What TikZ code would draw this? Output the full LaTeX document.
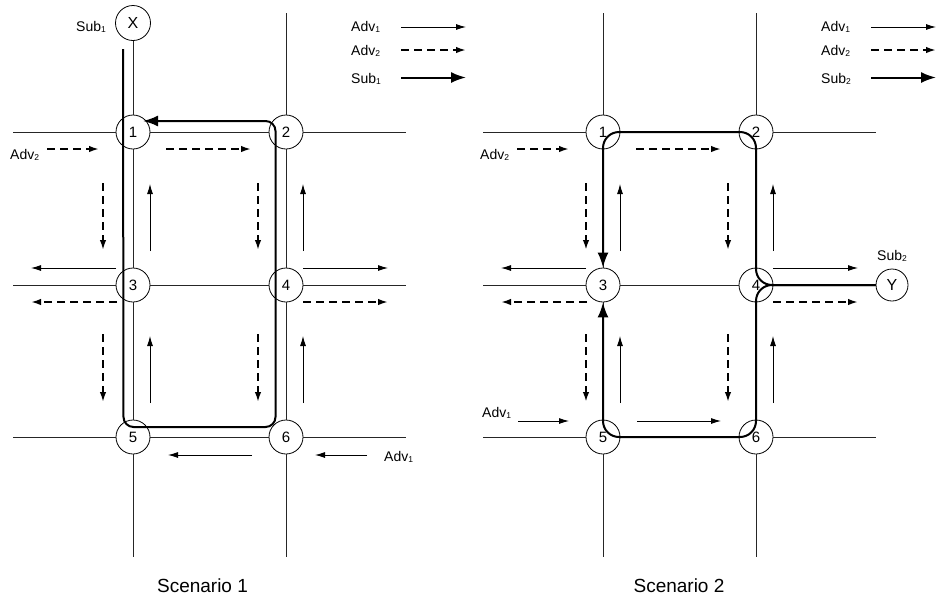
\documentclass[tikz,border=0pt]{standalone}
\usepackage{fontspec}
\setmainfont{Liberation Sans}
\usetikzlibrary{arrows.meta}
\newcommand{\mysub}[1]{\raisebox{-1.2pt}{\fontsize{8.5}{8.5}\selectfont #1}}
\begin{document}
\begin{tikzpicture}[x=1pt,y=-1pt,
  junction/.style={draw, circle, fill=white, minimum size=34pt, inner sep=0pt, line width=0.8pt, font=\fontsize{15}{15}\selectfont},
  road/.style={line width=0.9pt, draw=black!85},
  adva/.style={line width=0.9pt, -{Latex[length=10pt,width=6pt]}},
  advb/.style={line width=1.8pt, dash pattern=on 8pt off 5pt, -{Latex[length=10pt,width=6.5pt]}},
  subpath/.style={line width=2pt, -{Latex[length=15pt,width=11pt]}},
  lbl/.style={anchor=base west, inner sep=0pt, font=\fontsize{14}{14}\selectfont},
  title/.style={anchor=base, inner sep=0pt, font=\fontsize{19}{19}\selectfont}]
\useasboundingbox (0,0) rectangle (938,598);

% junctions
\foreach \s/\d in {a/0,b/470} {
  \node[junction] (\s1) at (133+\d,132) {1};
  \node[junction] (\s2) at (286+\d,132) {2};
  \node[junction] (\s3) at (133+\d,285) {3};
  \node[junction] (\s4) at (286+\d,285) {4};
  \node[junction] (\s5) at (133+\d,437) {5};
  \node[junction] (\s6) at (286+\d,437) {6};
}
\node[junction, minimum size=35pt, font=\fontsize{16}{16}\selectfont] (X) at (133,23) {X};
\node[junction, minimum size=32pt, font=\fontsize{16}{16}\selectfont] (Y) at (892,285) {Y};

% roads
\foreach \s/\d in {a/0,b/470} {
  \foreach \r/\y/\p/\q in {1/132/1/2, 2/285/3/4, 3/437/5/6} {
    \coordinate (\s W\r) at (13+\d,\y);
    \coordinate (\s E\r) at (406+\d,\y);
    \draw[road] (\s W\r) -- (\s\p);
    \draw[road] (\s\p) -- (\s\q);
    \draw[road] (\s\q) -- (\s E\r);
  }
  \coordinate (\s T2) at (286+\d,13);
  \coordinate (\s B1) at (133+\d,557);
  \coordinate (\s B2) at (286+\d,557);
  \draw[road] (\s T2) -- (\s2);
  \draw[road] (\s1) -- (\s3);
  \draw[road] (\s3) -- (\s5);
  \draw[road] (\s5) -- (\s B1);
  \draw[road] (\s2) -- (\s4);
  \draw[road] (\s4) -- (\s6);
  \draw[road] (\s6) -- (\s B2);
}
\coordinate (bT1) at (603,13);
\draw[road] (X) -- (a1);
\draw[road] (bT1) -- (b1);
\draw[road, line width=1.2pt] (b4) -- (Y);

% common movement arrows
\foreach \s/\d in {a/0,b/470} {
  % up arrows
  \draw[adva] (150+\d,251) -- (150+\d,184);
  \draw[adva] (150+\d,403) -- (150+\d,336);
  \draw[adva] (303+\d,251) -- (303+\d,184);
  \draw[adva] (303+\d,403) -- (303+\d,336);
  % dashed down, column 2
  \draw[advb] (258+\d,183) -- (258+\d,250);
  \draw[advb] (258+\d,334) -- (258+\d,402);
  % row 3
  \draw[adva] (116+\d,268) -- (31+\d,268);
  \draw[advb] (117+\d,302) -- (31+\d,302);
  \draw[adva] (303+\d,268) -- (388+\d,268);
  \draw[advb] (303+\d,302) -- (388+\d,302);
  % row 1 dashed
  \node[lbl] at (10+\d,159) {Adv\mysub{2}};
  \draw[advb] (47+\d,149) -- (99+\d,149);
  \draw[advb] (166+\d,149) -- (251+\d,149);
  % legend
  \node[lbl] at (351+\d,31.5) {Adv\mysub{1}};
  \node[lbl] at (351+\d,55) {Adv\mysub{2}};
  \draw[adva] (401+\d,27) -- (466+\d,27);
  \draw[advb] (401+\d,50) -- (466+\d,50);
  \draw[subpath] (401+\d,77.5) -- (466+\d,77.5);
}
\node[lbl] at (351,83) {Sub\mysub{1}};
\node[lbl] at (821,83) {Sub\mysub{2}};

% scenario 1 specific
\draw[advb] (103,183) -- (103,250);
\draw[advb] (103,334) -- (103,402);
\draw[adva] (252,455) -- (168,455);
\draw[adva] (367,455) -- (315,455);
\node[lbl] at (384,461) {Adv\mysub{1}};
\node[lbl] at (76,31.5) {Sub\mysub{1}};
\coordinate (aS) at (123,49);
\coordinate (aC1) at (123.5,427);
\coordinate (aC2) at (275.5,427);
\coordinate (aC3) at (275.5,121);
\coordinate (aE) at (143,121);
\draw[subpath, rounded corners=10pt] (aS) -- (aC1) -- (aC2) -- (aC3) -- (aE);

% scenario 2 specific
\draw[advb, line width=2.8pt] (586,183) -- (586,250);
\draw[advb, line width=2.8pt] (586,334) -- (586,402);
\node[lbl] at (482,417) {Adv\mysub{1}};
\draw[adva] (518,421) -- (569,421);
\draw[adva] (637,421) -- (721,421);
\node[lbl] at (877,260.5) {Sub\mysub{2}};
\draw[subpath, rounded corners=16pt] (Y.west) -- (b4.center) -- (b2.center) -- (b1.center) -- (b3.north);
\draw[subpath, rounded corners=16pt] (Y.west) -- (b4.center) -- (b6.center) -- (b5.center) -- (b3.south);

% titles
\node[title] at (202.5,592) {Scenario 1};
\node[title] at (679,592) {Scenario 2};
\end{tikzpicture}
\end{document}
